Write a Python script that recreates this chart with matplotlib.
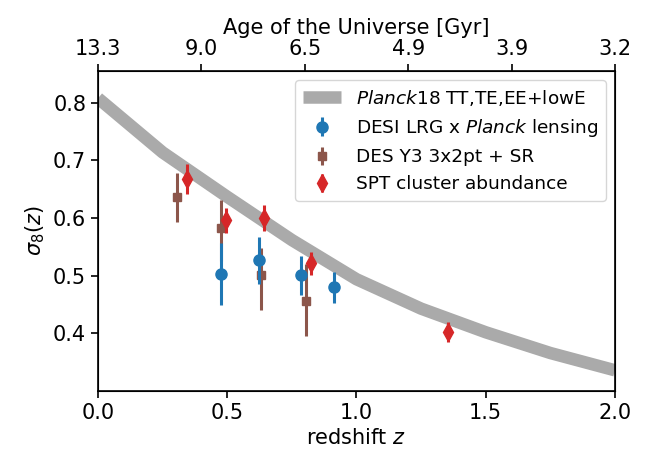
import matplotlib
matplotlib.use("Agg")
import matplotlib.pyplot as plt

# Planck18 band (centre of the grey line)
planck_z = [0.0, 0.25, 0.5, 0.75, 1.0, 1.25, 1.5, 1.75, 2.0]
planck_s8 = [0.808, 0.714, 0.637, 0.562, 0.494, 0.443, 0.402, 0.366, 0.336]

# DESI LRG x Planck lensing
desi_z = [0.475, 0.624, 0.784, 0.914]
desi_s8 = [0.503, 0.527, 0.501, 0.480]
desi_lo = [0.054, 0.042, 0.034, 0.027]
desi_hi = [0.054, 0.041, 0.033, 0.027]

# DES Y3 3x2pt + SR
des_z = [0.304, 0.476, 0.629, 0.803]
des_s8 = [0.637, 0.583, 0.501, 0.456]
des_lo = [0.044, 0.058, 0.060, 0.061]
des_hi = [0.041, 0.049, 0.048, 0.065]

# SPT cluster abundance
spt_z = [0.345, 0.495, 0.643, 0.823, 1.353]
spt_s8 = [0.668, 0.597, 0.600, 0.522, 0.403]
spt_lo = [0.026, 0.022, 0.023, 0.020, 0.018]
spt_hi = [0.026, 0.020, 0.023, 0.019, 0.016]

# top axis: age of the universe
age_ticks_z = [0.0, 0.4, 0.8, 1.2, 1.6, 2.0]
age_labels = ["13.3", "9.0", "6.5", "4.9", "3.9", "3.2"]

fig = plt.figure(figsize=(6.47, 4.59), dpi=100)
ax = fig.add_axes([0.1515, 0.148, 0.799, 0.697])

ax.plot(planck_z, planck_s8, color="#aaaaaa", lw=9, solid_capstyle="butt",
        label=r"$\mathit{Planck}$18 TT,TE,EE+lowE", zorder=1)
ax.errorbar(desi_z, desi_s8, yerr=[desi_lo, desi_hi], fmt="o", color="tab:blue",
            ms=8, elinewidth=2.2, capsize=0,
            label=r"DESI LRG x $\mathit{Planck}$ lensing", zorder=3)
ax.errorbar(des_z, des_s8, yerr=[des_lo, des_hi], fmt="s", color="tab:brown",
            ms=6, elinewidth=2.2, capsize=0,
            label="DES Y3 3x2pt + SR", zorder=2)
ax.errorbar(spt_z, spt_s8, yerr=[spt_lo, spt_hi], fmt="d", color="tab:red",
            ms=9, elinewidth=2.2, capsize=0,
            label="SPT cluster abundance", zorder=4)

ax.set_xlim(0, 2.0)
ax.set_ylim(0.30, 0.855)
ax.set_xticks([0.0, 0.5, 1.0, 1.5, 2.0])
ax.set_yticks([0.4, 0.5, 0.6, 0.7, 0.8])
ax.tick_params(labelsize=15, width=1.2, length=5)
ax.set_xlabel(r"redshift $z$", fontsize=15)
ax.set_ylabel(r"$\sigma_8(z)$", fontsize=15)
for sp in ax.spines.values():
    sp.set_linewidth(1.2)

ax2 = ax.twiny()
ax2.set_xlim(ax.get_xlim())
ax2.set_xticks(age_ticks_z)
ax2.set_xticklabels(age_labels)
ax2.tick_params(labelsize=15, width=1.2, length=5)
ax2.set_xlabel("Age of the Universe [Gyr]", fontsize=15)

ax.legend(loc="upper right", fontsize=13.3, handlelength=2.1)

fig.savefig("out.png", dpi=100)
